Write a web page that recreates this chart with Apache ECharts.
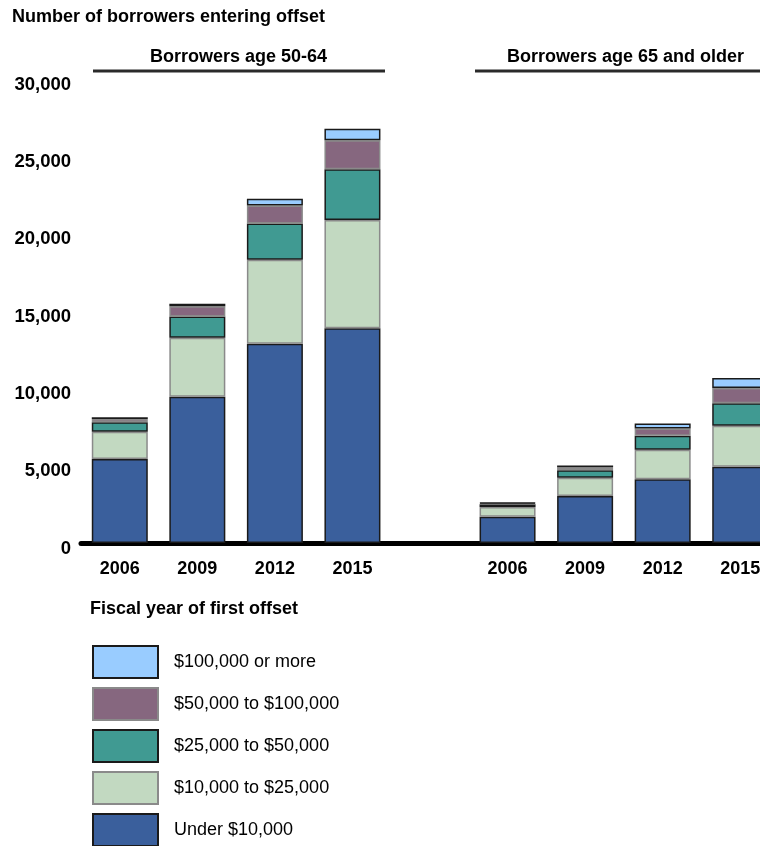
<!DOCTYPE html>
<html>
<head>
<meta charset="utf-8">
<script src="https://cdn.jsdelivr.net/npm/echarts@6/dist/echarts.min.js"></script>
<style>
  html, body { margin: 0; padding: 0; background: #fff; overflow: hidden; }
  /* the reference is cut off at the right and bottom, so the chart is a bit bigger than the window */
  #chart { width: 780px; height: 870px; }
</style>
</head>
<body>
<div id="chart"></div>
<script>
// fiscal year of first offset, two age groups with an empty slot between them
const categories = ['2006', '2009', '2012', '2015', '', '2006', '2009', '2012', '2015'];
const groupTitles = ['Borrowers age 50-64', 'Borrowers age 65 and older'];

const under10k = [5430, 9460, 12880, 13880, '-', 1700, 3040, 4120, 4930];
const k10to25 = [1770, 3810, 5430, 7000, '-', 630, 1180, 1910, 2650];
const k25to50 = [600, 1380, 2350, 3280, '-', 170, 480, 900, 1450];
const k50to100 = [220, 650, 1160, 1880, '-', 70, 190, 480, 990];
const k100plus = [110, 170, 430, 750, '-', 40, 120, 320, 650];

const seriesNames = ['Under $10,000', '$10,000 to $25,000', '$25,000 to $50,000', '$50,000 to $100,000', '$100,000 or more'];
const seriesData = [under10k, k10to25, k25to50, k50to100, k100plus];
const colors = ['#3a5f9c', '#c2d9c1', '#409a92', '#86677f', '#99ccff'];
const borders = ['#1a1a1a', '#8a8a8a', '#1a1a1a', '#8a8a8a', '#1a1a1a'];

const boldFont = 'Liberation Sans';

const chart = echarts.init(document.getElementById('chart'));

const series = seriesNames.map((name, i) => ({
    name: name,
    type: 'bar',
    stack: 'total',
    barWidth: 56,
    data: seriesData[i],
    itemStyle: {
        color: colors[i],
        borderColor: borders[i],
        borderWidth: 1.5
    }
}));

const opt = {
    animation: false,
    title: [
        {
            text: 'Number of borrowers entering offset',
            left: 12,
            top: 8,
            padding: 0,
            textStyle: { fontFamily: boldFont, fontWeight: 'bold', fontSize: 18, color: '#000' }
        },
        {
            text: 'Fiscal year of first offset',
            left: 90,
            top: 600,
            padding: 0,
            textStyle: { fontFamily: boldFont, fontWeight: 'bold', fontSize: 18, color: '#000' }
        }
    ],
    legend: {
        orient: 'vertical',
        left: 92,
        top: 645,
        padding: 0,
        itemWidth: 65,
        itemHeight: 32,
        itemGap: 8,
        icon: 'rect',
        data: seriesNames.slice().reverse(),
        textStyle: { fontFamily: 'Liberation Sans', fontSize: 18, color: '#000', padding: [0, 0, 0, 11] }
    },
    grid: {
        left: 81,
        top: 79,
        width: 698,
        height: 464
    },
    xAxis: {
        type: 'category',
        data: categories,
        axisLine: { lineStyle: { color: '#000', width: 5 } },
        axisTick: { show: false },
        axisLabel: {
            margin: 17,
            interval: 0,
            fontFamily: boldFont, fontWeight: 'bold', fontSize: 18, color: '#000'
        }
    },
    yAxis: {
        type: 'value',
        min: 0,
        max: 30000,
        interval: 5000,
        splitLine: { show: false },
        axisLine: { show: false },
        axisTick: { show: false },
        axisLabel: {
            margin: 10,
            verticalAlign: 'top',
            lineHeight: 11,
            fontFamily: boldFont, fontWeight: 'bold', fontSize: 18.5, color: '#000'
        }
    },
    graphic: [
        {
            type: 'text', left: 150, top: 48,
            style: { text: groupTitles[0], font: 'bold 18px "Liberation Sans"', fill: '#000' }
        },
        {
            type: 'text', left: 507, top: 48,
            style: { text: groupTitles[1], font: 'bold 18px "Liberation Sans"', fill: '#000' }
        },
        {
            type: 'line', shape: { x1: 93, y1: 71, x2: 385, y2: 71 },
            style: { stroke: '#2a2a2a', lineWidth: 3 }
        },
        {
            type: 'line', shape: { x1: 475, y1: 71, x2: 780, y2: 71 },
            style: { stroke: '#2a2a2a', lineWidth: 3 }
        }
    ],
    series: series
};

chart.setOption(opt);
</script>
</body>
</html>
